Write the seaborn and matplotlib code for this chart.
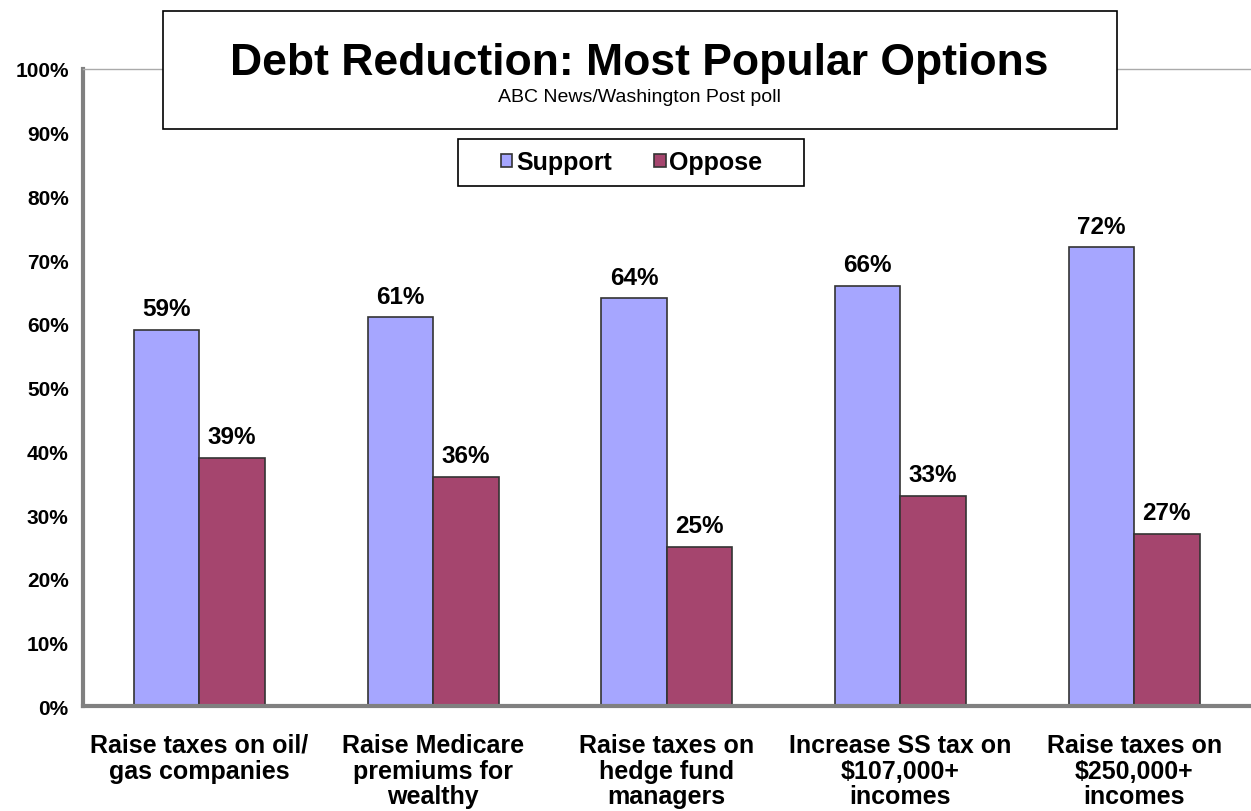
import pandas as pd
import matplotlib
import matplotlib.pyplot as plt
import seaborn as sns
from matplotlib.patches import Rectangle

matplotlib.use('Agg')

# 数据
options = ['Raise taxes on oil/\ngas companies',
           'Raise Medicare\npremiums for\nwealthy',
           'Raise taxes on\nhedge fund\nmanagers',
           'Increase SS tax on\n$107,000+\nincomes',
           'Raise taxes on\n$250,000+\nincomes']
support = [59, 61, 64, 66, 72]
oppose = [39, 36, 25, 33, 27]
series_names = ['Support', 'Oppose']
colors = ['#A6A6FF', '#A5456E']
y_ticks = [0, 10, 20, 30, 40, 50, 60, 70, 80, 90, 100]

df = pd.DataFrame({'option': options * 2,
                   'answer': [series_names[0]] * 5 + [series_names[1]] * 5,
                   'pct': support + oppose})

sns.set_style('white', {'text.color': 'black', 'axes.labelcolor': 'black',
                        'xtick.color': 'black', 'ytick.color': 'black'})
plt.rcParams['font.family'] = ['Liberation Sans', 'DejaVu Sans']

fig = plt.figure(figsize=(12.51, 8.12), dpi=100)
ax = fig.add_axes([0.066, 0.129, 0.934, 0.785])

sns.barplot(data=df, x='option', y='pct', hue='answer', palette=colors,
            width=0.56, edgecolor='#333333', linewidth=1.2, saturation=1,
            ax=ax, legend=True)

# 数据标签
for cont in ax.containers:
    ax.bar_label(cont, labels=[f'{v:.0f}%' for v in cont.datavalues],
                 padding=7, fontsize=17.5, fontweight='bold', color='black')

ax.set_ylim(0, 100)
ax.set_xlim(-0.5, 4.5)
ax.set_yticks(y_ticks)
ax.set_yticklabels([f'{t}%' for t in y_ticks], fontsize=15, fontweight='bold')
ax.set_xticks(range(len(options)))
ax.set_xticklabels(options, fontsize=18, fontweight='bold', linespacing=1.1)
ax.tick_params(axis='x', which='major', length=0, pad=19, labelcolor='black')
ax.set_xticks([0.5, 1.5, 2.5, 3.5], minor=True)
ax.tick_params(axis='x', which='minor', length=6, width=1.5, color='#808080', direction='out')
ax.tick_params(axis='y', length=6, width=1.5, color='#808080', direction='out', pad=4,
               labelcolor='black')
ax.set_xlabel('')
ax.set_ylabel('')

for side in ['left', 'bottom']:
    ax.spines[side].set_color('#808080')
    ax.spines[side].set_linewidth(3)
ax.spines['top'].set_color('#aaaaaa')
ax.spines['top'].set_linewidth(1)
ax.spines['right'].set_visible(False)

# 图例
handles, labels = ax.get_legend_handles_labels()
leg = ax.legend(handles, labels, ncol=2, loc='center', bbox_to_anchor=(0.505, 0.799),
                bbox_transform=fig.transFigure, frameon=False,
                prop={'weight': 'bold', 'size': 18},
                handlelength=0.45, handleheight=0.45, handletextpad=0.15,
                columnspacing=1.7)
leg.set_zorder(7)
ax.add_patch(Rectangle((0.366, 0.770), 0.277, 0.058, transform=fig.transFigure,
                       facecolor='white', edgecolor='black', linewidth=1.2,
                       zorder=6, clip_on=False))

# 标题框
fig.patches.append(Rectangle((0.130, 0.840), 0.763, 0.145, transform=fig.transFigure,
                             facecolor='white', edgecolor='black', linewidth=1.2, zorder=5))
fig.text(0.511, 0.922, 'Debt Reduction: Most Popular Options', ha='center', va='center',
         fontsize=32, fontweight='bold', zorder=6)
fig.text(0.511, 0.880, 'ABC News/Washington Post poll', ha='center', va='center',
         fontsize=14, zorder=6)

plt.savefig('out.png', dpi=100)
plt.close()
